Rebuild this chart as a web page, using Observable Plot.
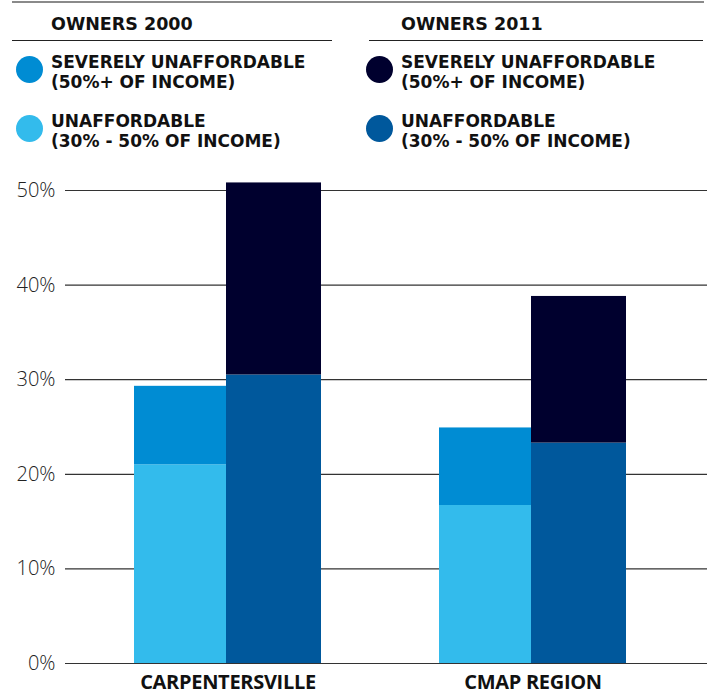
<!DOCTYPE html>
<html>
<head>
<meta charset="utf-8">
<script src="https://cdn.jsdelivr.net/npm/d3@7"></script>
<script src="https://cdn.jsdelivr.net/npm/@observablehq/plot@0.6"></script>
<style>
  html, body { margin: 0; padding: 0; background: #fff; }
  #wrap { position: relative; width: 710px; height: 700px; }
  #legend { position: absolute; left: 0; top: 0; width: 710px; height: 160px; font-family: "DejaVu Sans", sans-serif; font-weight: 700; color: #111; }
  .topline { position: absolute; top: 1px; left: 12px; width: 692px; height: 2px; background: #8a8a8a; }
  .col { position: absolute; top: 0; }
  .head { position: absolute; top: 14px; font-size: 17.5px; line-height: 20px; white-space: nowrap; }
  .rule { position: absolute; top: 40px; height: 1px; background: #222; }
  .line { position: absolute; font-size: 17px; line-height: 19px; white-space: nowrap; }
  .dot { position: absolute; width: 27px; height: 27px; border-radius: 50%; }
  #chart { position: absolute; left: 0; top: 160px; }
  #chart svg { font-family: "Open Sans", sans-serif; }
  #chart g[aria-label^="y-axis"] text { font-size: 20px; font-weight: 300; fill: #222; }
  #chart g[aria-label^="x-axis"] text { font-family: "Open Sans", sans-serif; font-size: 20px; font-weight: 700; fill: #111; letter-spacing: -0.3px; }
</style>
</head>
<body>
<div id="wrap">
  <div id="legend"></div>
  <div id="chart"></div>
</div>
<script>
// ---- data ----
const regions = ["CARPENTERSVILLE", "CMAP REGION"];
const unaffordable2000 = [21.0, 16.7];   // 30% - 50% of income, owners 2000
const severe2000       = [8.3, 8.2];     // 50%+ of income, owners 2000
const unaffordable2011 = [30.5, 23.3];   // 30% - 50% of income, owners 2011
const severe2011       = [20.3, 15.5];   // 50%+ of income, owners 2011
const yTicks = [0, 10, 20, 30, 40, 50];

const legendGroups = [
  { head: "OWNERS 2000", items: [
    { key: "2000 severe", l1: "SEVERELY UNAFFORDABLE", l2: "(50%+ OF INCOME)" },
    { key: "2000 unaff", l1: "UNAFFORDABLE", l2: "(30% - 50% OF INCOME)" } ] },
  { head: "OWNERS 2011", items: [
    { key: "2011 severe", l1: "SEVERELY UNAFFORDABLE", l2: "(50%+ OF INCOME)" },
    { key: "2011 unaff", l1: "UNAFFORDABLE", l2: "(30% - 50% OF INCOME)" } ] }
];
const colorDomain = ["2000 unaff", "2000 severe", "2011 unaff", "2011 severe"];
const colorRange  = ["#33bbec", "#008cd3", "#00589c", "#00002e"];
const colorOf = Object.fromEntries(colorDomain.map((k, i) => [k, colorRange[i]]));

// ---- tables ----
const rows2000 = regions.flatMap((r, i) => [
  { region: r, key: "2000 unaff", value: unaffordable2000[i] },
  { region: r, key: "2000 severe", value: severe2000[i] }
]);
const rows2011 = regions.flatMap((r, i) => [
  { region: r, key: "2011 unaff", value: unaffordable2011[i] },
  { region: r, key: "2011 severe", value: severe2011[i] }
]);

// ---- legend ----
const legend = document.getElementById("legend");
legend.innerHTML = '<div class="topline"></div>';
const colLeft = [0, 355];
legendGroups.forEach((g, gi) => {
  const col = document.createElement("div");
  col.className = "col";
  col.style.left = colLeft[gi] + "px";
  const ruleL = gi === 0 ? 12 : 14, ruleW = gi === 0 ? 320 : 334;
  const textX = gi === 0 ? 51 : 46, dotX = gi === 0 ? 16 : 11;
  col.innerHTML = `<div class="head" style="left:${textX}px">${g.head}</div>
    <div class="rule" style="left:${ruleL}px;width:${ruleW}px"></div>` +
    g.items.map((it, ii) => {
      const top = 53 + ii * 59;
      return `<div class="dot" style="left:${dotX}px;top:${top + 3}px;background:${colorOf[it.key]}"></div>
        <div class="line" style="left:${textX}px;top:${top}px">${it.l1}</div>
        <div class="line" style="left:${textX}px;top:${top + 20}px">${it.l2}</div>`;
    }).join("");
  legend.appendChild(col);
});

// ---- chart ----
const plot = Plot.plot({
  width: 710,
  height: 540,
  marginTop: 30,
  marginBottom: 37,
  marginLeft: 65,
  marginRight: 3,
  x: { domain: regions, paddingInner: 0.386, paddingOuter: 0.2225, insetRight: 12, label: null, tickSize: 0, tickPadding: 11 },
  y: { domain: [0, 50], ticks: yTicks, tickFormat: d => d + "%", tickSize: 0, tickPadding: 10, label: null },
  color: { domain: colorDomain, range: colorRange },
  marks: [
    Plot.ruleY(yTicks, { stroke: "#333", strokeWidth: 1.2 }),
    Plot.barY(rows2000, { x: "region", y: "value", fill: "key", insetRight: 95 }),
    Plot.barY(rows2011, { x: "region", y: "value", fill: "key", insetLeft: 92 })
  ]
});
document.getElementById("chart").appendChild(plot);
</script>
</body>
</html>
